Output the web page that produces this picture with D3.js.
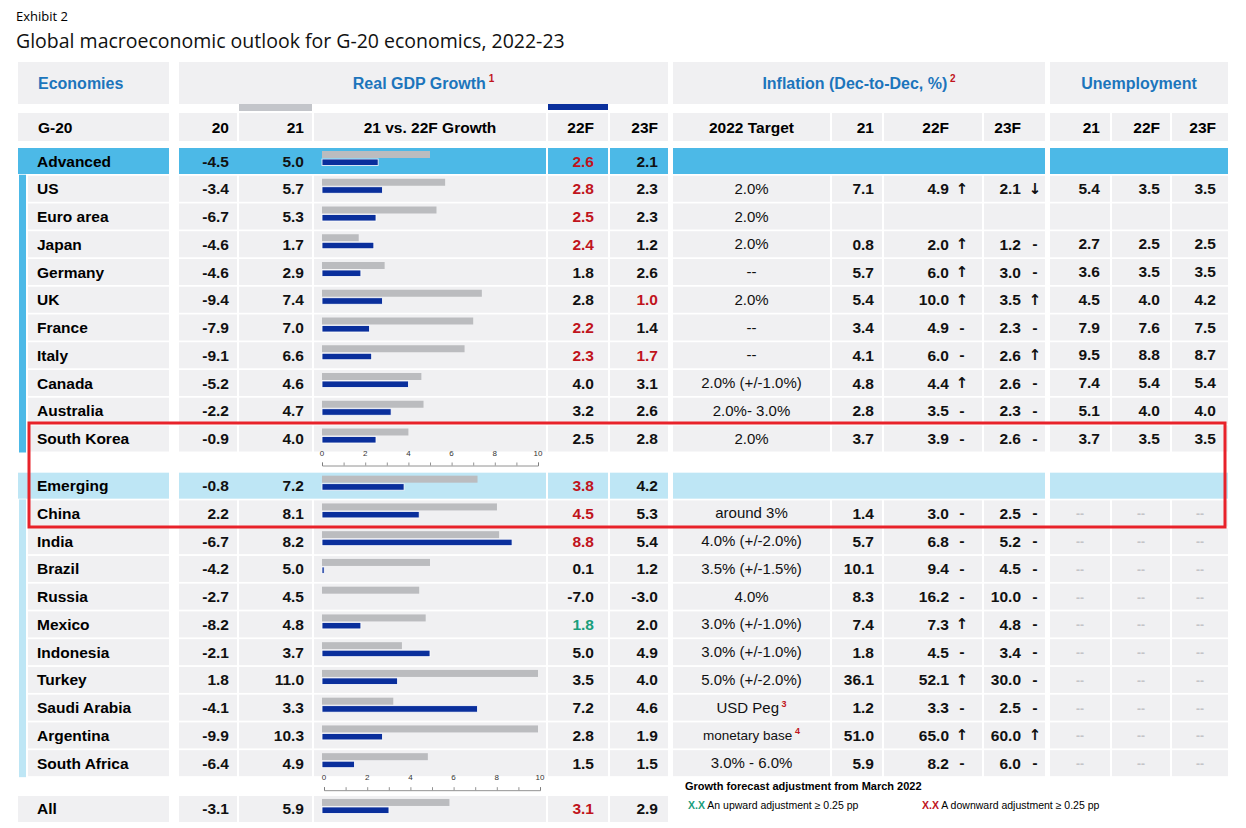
<!DOCTYPE html>
<html><head><meta charset="utf-8">
<script src="https://cdn.jsdelivr.net/npm/d3@7"></script>
<style>body{margin:0;background:#fff} svg{font-family:"Liberation Sans",Arial,sans-serif}</style>
</head><body><div id="chart"></div>
<script>
// data
const names = ["Advanced","US","Euro area","Japan","Germany","UK","France","Italy","Canada","Australia","South Korea",
  "Emerging","China","India","Brazil","Russia","Mexico","Indonesia","Turkey","Saudi Arabia","Argentina","South Africa","All"];
const slots = [0,1,2,3,4,5,6,7,8,9,10, 11.7,12.7,13.7,14.7,15.7,16.7,17.7,18.7,19.7,20.7,21.7, 23.35];
const kinds = ["adv","c","c","c","c","c","c","c","c","c","c","em","c","c","c","c","c","c","c","c","c","c","all"];
const gdp20 = [-4.5,-3.4,-6.7,-4.6,-4.6,-9.4,-7.9,-9.1,-5.2,-2.2,-0.9,-0.8,2.2,-6.7,-4.2,-2.7,-8.2,-2.1,1.8,-4.1,-9.9,-6.4,-3.1];
const gdp21 = [5.0,5.7,5.3,1.7,2.9,7.4,7.0,6.6,4.6,4.7,4.0,7.2,8.1,8.2,5.0,4.5,4.8,3.7,11.0,3.3,10.3,4.9,5.9];
const gdp22 = [2.6,2.8,2.5,2.4,1.8,2.8,2.2,2.3,4.0,3.2,2.5,3.8,4.5,8.8,0.1,-7.0,1.8,5.0,3.5,7.2,2.8,1.5,3.1];
const gdp23 = [2.1,2.3,2.3,1.2,2.6,1.0,1.4,1.7,3.1,2.6,2.8,4.2,5.3,5.4,1.2,-3.0,2.0,4.9,4.0,4.6,1.9,1.5,2.9];
// adjustment flags: "d" downward (red), "u" upward (green)
const adj22 = ["d","d","d","d","","","d","d","","","","d","d","d","","","u","","","","","","d"];
const adj23 = ["","","","","","d","","d","","","","","","","","","","","","","","",""];
const target = ["","2.0%","2.0%","2.0%","--","2.0%","--","--","2.0% (+/-1.0%)","2.0%- 3.0%","2.0%",
  "","around 3%","4.0% (+/-2.0%)","3.5% (+/-1.5%)","4.0%","3.0% (+/-1.0%)","3.0% (+/-1.0%)","5.0% (+/-2.0%)","USD Peg","monetary base","3.0% - 6.0%",""];
const targetNote = {19:"3",20:"4"};
const inf21 = ["","7.1","","0.8","5.7","5.4","3.4","4.1","4.8","2.8","3.7","","1.4","5.7","10.1","8.3","7.4","1.8","36.1","1.2","51.0","5.9",""];
const inf22 = ["","4.9","","2.0","6.0","10.0","4.9","6.0","4.4","3.5","3.9","","3.0","6.8","9.4","16.2","7.3","4.5","52.1","3.3","65.0","8.2",""];
const dir22 = ["","↑","","↑","↑","↑","-","-","↑","-","-","","-","-","-","-","↑","-","↑","-","↑","-",""];
const inf23 = ["","2.1","","1.2","3.0","3.5","2.3","2.6","2.6","2.3","2.6","","2.5","5.2","4.5","10.0","4.8","3.4","30.0","2.5","60.0","6.0",""];
const dir23 = ["","↓","","-","-","↑","-","↑","-","-","-","","-","-","-","-","-","-","-","-","↑","-",""];
const un21 = ["","5.4","","2.7","3.6","4.5","7.9","9.5","7.4","5.1","3.7","","--","--","--","--","--","--","--","--","--","--",""];
const un22 = ["","3.5","","2.5","3.5","4.0","7.6","8.8","5.4","4.0","3.5","","--","--","--","--","--","--","--","--","--","--",""];
const un23 = ["","3.5","","2.5","3.5","4.2","7.5","8.7","5.4","4.0","3.5","","--","--","--","--","--","--","--","--","--","--",""];
const axisTicks = [0,2,4,6,8,10];

const W = 1246, H = 828;
const svg = d3.select("#chart").append("svg").attr("width", W).attr("height", H);

const y = d3.scaleLinear().domain([0, 10]).range([161, 438.5]);
const rowH = 26;
const cell = "#f0f0f2", advC = "#4cb9e7", emC = "#bee6f5", blueT = "#1c75bc";
const red = "#c0141c", green = "#1a9e7c";

// columns
const col = {
  name: [18, 169], g20: [179, 237], g21: [239, 312], bars: [314, 546], g22: [548, 608], g23: [610, 668],
  tgt: [673, 830], i21: [832, 882], i22: [884, 982], i23: [984, 1045],
  u21: [1050, 1110], u22: [1112, 1170], u23: [1172, 1228]
};

// titles
svg.append("text").attr("x", 16).attr("y", 21).attr("font-family", "Open Sans").attr("font-size", 13).text("Exhibit 2");
svg.append("text").attr("x", 16).attr("y", 48).attr("font-family", "Open Sans").attr("font-size", 19.5).attr("fill", "#111")
  .text("Global macroeconomic outlook for G-20 economics, 2022-23");

// header row 1
const h1 = [[col.name[0], col.name[1], "Economies", "start"], [col.g20[0], col.g23[1], "Real GDP Growth", "middle", "1"],
  [col.tgt[0], col.i23[1], "Inflation (Dec-to-Dec, %)", "middle", "2"], [col.u21[0], col.u23[1], "Unemployment", "middle"]];
h1.forEach(([a, b, t, anc, sup]) => {
  svg.append("rect").attr("x", a).attr("y", 62).attr("width", b - a).attr("height", 42).attr("fill", cell);
  const tx = svg.append("text").attr("x", anc === "start" ? a + 20 : (a + b) / 2).attr("y", 89).attr("text-anchor", anc)
    .attr("font-size", 16).attr("font-weight", "bold").attr("fill", blueT).text(t);
  if (sup) tx.append("tspan").attr("dy", -7).attr("font-size", 10).attr("fill", red).text(" " + sup);
});
// legend chips over column header
svg.append("rect").attr("x", 239).attr("y", 104).attr("width", 73).attr("height", 7).attr("fill", "#c3c5ca");
svg.append("rect").attr("x", 548).attr("y", 104).attr("width", 60).attr("height", 6).attr("fill", "#0a2f9c");

// header row 2
const h2 = [["name", "G-20", "start"], ["g20", "20"], ["g21", "21"], ["bars", "21 vs. 22F Growth", "middle"], ["g22", "22F"], ["g23", "23F"],
  ["tgt", "2022 Target", "middle"], ["i21", "21"], ["i22", "22F"], ["i23", "23F"], ["u21", "21"], ["u22", "22F"], ["u23", "23F"]];
const numX = {g20: -8, g21: -8, g22: -14, g23: -10, i21: -8, i22: -33, i23: -24, u21: -10, u22: -10, u23: -12};
h2.forEach(([k, t, anc]) => {
  const [a, b] = col[k];
  svg.append("rect").attr("x", a).attr("y", 113).attr("width", b - a).attr("height", 28).attr("fill", cell);
  svg.append("text").attr("x", anc === "start" ? a + 20 : anc === "middle" ? (a + b) / 2 : b + numX[k])
    .attr("y", 133).attr("text-anchor", anc || "end").attr("font-size", 15.5).attr("font-weight", "bold").text(t);
});

// data rows
const xb = d3.scaleLinear().domain([0, 10]).range([322, 538]).clamp(true);
names.forEach((n, i) => {
  const cy = y(slots[i]), top = cy - rowH / 2, k = kinds[i];
  const bg = k === "adv" ? advC : k === "em" ? emC : cell;
  const nx = k === "c" ? 28 : 18;
  svg.append("rect").attr("x", nx).attr("y", top).attr("width", col.name[1] - nx).attr("height", rowH).attr("fill", bg);
  svg.append("text").attr("x", 37).attr("y", cy + 5.5).attr("font-size", 15.5).attr("font-weight", "bold").text(n);
  if (k === "adv" || k === "em") {
    svg.append("rect").attr("x", col.g20[0]).attr("y", top).attr("width", col.g22[0] - col.g20[0] - 2).attr("height", rowH).attr("fill", bg);
    ["g22", "g23"].forEach(c => svg.append("rect").attr("x", col[c][0]).attr("y", top).attr("width", col[c][1] - col[c][0]).attr("height", rowH).attr("fill", bg));
    [["tgt", "i23"], ["u21", "u23"]].forEach(([a, b]) => svg.append("rect").attr("x", col[a][0]).attr("y", top)
      .attr("width", col[b][1] - col[a][0]).attr("height", rowH).attr("fill", bg));
  } else {
    const keys = k === "all" ? ["g20", "g21", "bars", "g22", "g23"] : Object.keys(col).filter(c => c !== "name");
    keys.forEach(c => svg.append("rect").attr("x", col[c][0]).attr("y", top).attr("width", col[c][1] - col[c][0]).attr("height", rowH).attr("fill", bg));
  }
  const num = (c, t, fill) => svg.append("text").attr("x", col[c][1] + numX[c]).attr("y", cy + 5.5).attr("text-anchor", "end")
    .attr("font-size", 15.5).attr("font-weight", "bold").attr("fill", fill || "#111").text(t);
  num("g20", gdp20[i].toFixed(1));
  num("g21", gdp21[i].toFixed(1));
  num("g22", gdp22[i].toFixed(1), adj22[i] === "d" ? red : adj22[i] === "u" ? green : null);
  num("g23", gdp23[i].toFixed(1), adj23[i] === "d" ? red : null);
  // bars
  svg.append("rect").attr("x", xb(0)).attr("y", cy - 10).attr("width", xb(gdp21[i]) - xb(0)).attr("height", 7).attr("fill", "#bbbcbf");
  svg.append("rect").attr("x", xb(0)).attr("y", cy - 2).attr("width", xb(gdp22[i]) - xb(0)).attr("height", 6.5)
    .attr("fill", "#0a2f9c").attr("stroke", "#fff").attr("stroke-width", 0.8);
  // inflation
  if (target[i]) {
    const t = svg.append("text").attr("x", (col.tgt[0] + col.tgt[1]) / 2).attr("y", cy + 5).attr("text-anchor", "middle")
      .attr("font-size", i === 20 ? 13.5 : 15).attr("fill", "#111").text(target[i]);
    if (targetNote[i]) t.append("tspan").attr("dy", -6).attr("font-size", 9).attr("font-weight", "bold").attr("fill", red).text(" " + targetNote[i]);
  }
  const mark = (x, d) => svg.append("text").attr("x", x).attr("y", cy + 5).attr("text-anchor", "middle")
    .attr("font-family", "DejaVu Sans").attr("font-size", d === "-" ? 13 : 15).attr("font-weight", "bold").attr("fill", "#111").text(d);
  if (inf21[i]) {
    num("i21", inf21[i]); num("i22", inf22[i]); num("i23", inf23[i]);
    mark(col.i22[1] - 20, dir22[i]);
    mark(col.i23[1] - 10, dir23[i]);
  }
  if (un21[i]) {
    const dash = un21[i] === "--";
    [["u21", un21], ["u22", un22], ["u23", un23]].forEach(([c, arr]) =>
      svg.append("text").attr("x", dash ? (col[c][0] + col[c][1]) / 2 : col[c][1] + numX[c]).attr("y", cy + 5)
        .attr("text-anchor", dash ? "middle" : "end").attr("font-size", dash ? 12 : 15.5).attr("font-weight", "bold")
        .attr("fill", dash ? "#c4c4c8" : "#111").text(arr[i]));
  }
});

// group accent strips
[[1, 10], [12, 21]].forEach(([a, b]) => {
  svg.append("rect").attr("x", 19).attr("y", y(slots[a]) - 14).attr("width", 7)
    .attr("height", y(slots[b]) - y(slots[a]) + 28).attr("fill", a === 1 ? advC : emC);
});

// axes under bar blocks
[[10, 0], [21, 2]].forEach(([i, off]) => {
  const ax = d3.scaleLinear().domain([0, 10]).range([322 + off, 538 + off]);
  const g = svg.append("g").attr("transform", `translate(0,${y(slots[i]) + 27})`);
  g.call(d3.axisTop(ax).tickValues(d3.range(0, 11, 1)).tickSize(3).tickFormat(""));
  g.selectAll("path,line").attr("stroke", "#777").attr("stroke-width", 0.8);
  g.selectAll(".lbl").data(axisTicks).join("text").attr("x", d => ax(d)).attr("y", -10).attr("text-anchor", "middle")
    .attr("font-size", 8).attr("fill", "#333").text(d => d);
});

// legend
svg.append("text").attr("x", 685).attr("y", 790).attr("font-size", 11).attr("font-weight", "bold").text("Growth forecast adjustment from March 2022");
const lg = svg.append("text").attr("x", 688).attr("y", 809).attr("font-size", 10.5);
lg.append("tspan").attr("fill", green).attr("font-weight", "bold").text("X.X");
lg.append("tspan").text(" An upward adjustment ≥ 0.25 pp");
const lg2 = svg.append("text").attr("x", 922).attr("y", 809).attr("font-size", 10.5);
lg2.append("tspan").attr("fill", red).attr("font-weight", "bold").text("X.X");
lg2.append("tspan").text(" A downward adjustment ≥ 0.25 pp");

// highlight box
svg.append("rect").attr("x", 29).attr("y", 423).attr("width", 1196).attr("height", 104)
  .attr("fill", "none").attr("stroke", "#e8222a").attr("stroke-width", 3);
</script></body></html>
